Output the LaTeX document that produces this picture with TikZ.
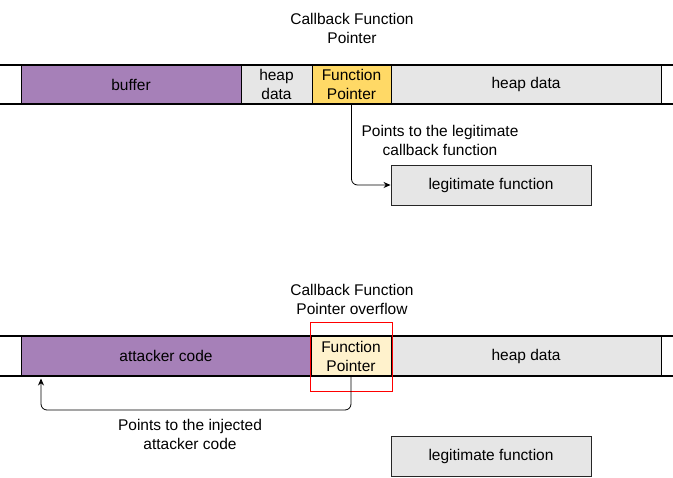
\documentclass[tikz,border=0pt]{standalone}
\usepackage{fontspec}
\setmainfont{Liberation Sans}
\usetikzlibrary{arrows.meta}
\definecolor{purp}{HTML}{A680B8}
\definecolor{lgray}{HTML}{E6E6E6}
\definecolor{fpy}{HTML}{FFD966}
\definecolor{fply}{HTML}{FFF2CC}
\begin{document}
\begin{tikzpicture}[x=1pt,y=-1pt,
  every node/.style={font=\fontsize{15.5}{19}\selectfont, align=center},
  cell/.style={draw=black, line width=0.9pt, inner sep=0pt, minimum height=#1},
  cell/.default=39pt,
  lbl/.style={inner sep=0pt},
  conn/.style={draw=black, line width=0.8pt, rounded corners=6pt, -{Stealth[length=7pt,width=6pt]}},
  rail/.style={line width=2.6pt}
]
\useasboundingbox (0,0) rectangle (673,478);
% Row 1
\node[cell, fill=purp, minimum width=220pt] (buf) at (131,84.5) {buffer};
\node[cell, fill=lgray, minimum width=71pt] (hd1) at (276.5,84.5) {heap\\data};
\node[cell, fill=fpy, minimum width=79pt] (fp1) at (351.5,84.5) {Function\\Pointer};
\node[cell, fill=lgray, minimum width=270pt] (hd2) at (526,84.5) {heap data};
\draw[rail] (0,65) -- (673,65);
\draw[rail] (0,104) -- (673,104);
\node[lbl] (t1) at (352,28.5) {Callback Function\\Pointer};
\node[lbl] (p1) at (440,140.5) {Points to the legitimate\\callback function};
\node[cell=40pt, fill=lgray, draw=black!85, minimum width=200pt] (l1) at (491,185) {legitimate function};
\draw[conn] (fp1.south) |- (l1.west);
% Row 2
\node[cell=40pt, fill=purp, minimum width=290pt] (ac) at (166,356) {attacker code};
\node[cell=40pt, fill=fply, minimum width=80pt] (fp2) at (351,356) {Function\\Pointer};
\node[cell=40pt, fill=lgray, minimum width=270pt] (hd3) at (526,356) {heap data};
\draw[rail] (0,336) -- (673,336);
\draw[rail] (0,376) -- (673,376);
\node[draw=red, line width=0.9pt, minimum width=82pt, minimum height=69pt, inner sep=0pt] (ov) at (351,356.5) {};
\node[lbl] (t2) at (352,299.5) {Callback Function\\Pointer overflow};
\coordinate (tgt) at (41,378.5);
\draw[conn] (fp2.south) -- (351,410) -| (tgt);
\node[lbl] (p2) at (190,434.5) {Points to the injected\\attacker code};
\node[cell=40pt, fill=lgray, draw=black!85, minimum width=200pt] (l2) at (491,456) {legitimate function};
\end{tikzpicture}
\end{document}
